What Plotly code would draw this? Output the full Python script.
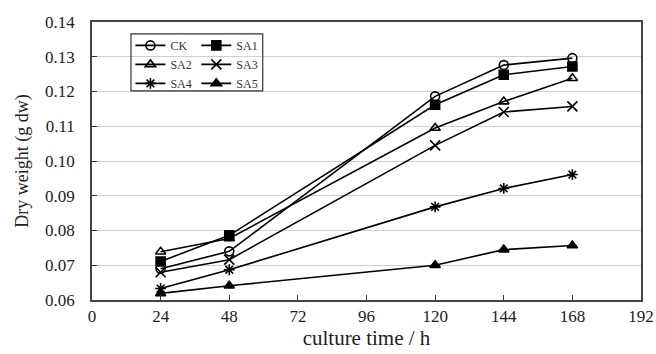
import plotly.graph_objects as go

hours = [24, 48, 120, 144, 168]
ck  = [0.0690, 0.0740, 0.1186, 0.1276, 0.1296]
sa1 = [0.0711, 0.0786, 0.1162, 0.1248, 0.1272]
sa2 = [0.0739, 0.0777, 0.1095, 0.1171, 0.1238]
sa3 = [0.0680, 0.0716, 0.1045, 0.1141, 0.1157]
sa4 = [0.0633, 0.0687, 0.0868, 0.0921, 0.0961]
sa5 = [0.0619, 0.0641, 0.0700, 0.0745, 0.0757]

x_ticks = [0, 24, 48, 72, 96, 120, 144, 168, 192]
y_ticks = [0.06, 0.07, 0.08, 0.09, 0.10, 0.11, 0.12, 0.13, 0.14]

series = [
    ("CK", ck, "circle-open", "legend"),
    ("SA2", sa2, "triangle-up-open", "legend"),
    ("SA4", sa4, "asterisk-open", "legend"),
    ("SA1", sa1, "square", "legend2"),
    ("SA3", sa3, "x-thin-open", "legend2"),
    ("SA5", sa5, "triangle-up", "legend2"),
]

FONT = "Liberation Serif"
fig = go.Figure()
for name, vals, sym, leg in series:
    fig.add_trace(go.Scatter(
        x=hours, y=vals, name=name, mode="lines+markers",
        line=dict(color="black", width=1.6),
        marker=dict(symbol=sym, size=9 if "x" not in sym else 10, color="black",
                    line=dict(color="black", width=1.6)),
        legend=leg,
    ))

fig.update_layout(
    width=656, height=354,
    margin=dict(l=92, r=15, t=22, b=54, autoexpand=False),
    paper_bgcolor="white", plot_bgcolor="white",
    font=dict(family=FONT, size=17, color="#222"),
    showlegend=True,
    legend=dict(x=0.07, y=0.968, xanchor="left", yanchor="top",
                font=dict(family=FONT, size=12, color="#333"),
                bgcolor="rgba(0,0,0,0)", tracegroupgap=0, itemwidth=30),
    legend2=dict(x=0.19, y=0.968, xanchor="left", yanchor="top",
                 font=dict(family=FONT, size=12, color="#333"),
                 bgcolor="rgba(0,0,0,0)", tracegroupgap=0, itemwidth=30),
    xaxis=dict(range=[0, 192], tickvals=x_ticks, ticktext=[str(v) for v in x_ticks],
               ticks="inside", ticklen=5, tickcolor="#333", automargin=False,
               showline=True, linecolor="#444", linewidth=1.5, mirror=True,
               showgrid=False, zeroline=False,
               title=dict(text="culture time / h", font=dict(family=FONT, size=21), standoff=2),
               tickfont=dict(family=FONT, size=17, color="#222")),
    yaxis=dict(range=[0.06, 0.14], tickvals=y_ticks,
               ticktext=[f"{v:.2f}" for v in y_ticks],
               ticks="inside", ticklen=5, tickcolor="#333", automargin=False,
               showline=True, linecolor="#444", linewidth=1.5, mirror=True,
               showgrid=True, gridcolor="#d0d0d0", gridwidth=1, zeroline=False,
               ticklabelstandoff=12,
               title=dict(text="Dry weight (g dw)", font=dict(family=FONT, size=18), standoff=12),
               tickfont=dict(family=FONT, size=17, color="#222")),
    shapes=[dict(type="rect", xref="paper", yref="paper",
                 x0=0.071, x1=0.311, y0=0.752, y1=0.957,
                 line=dict(color="#333", width=1.2), fillcolor="rgba(0,0,0,0)")],
)

fig.write_html("out.html", config={"displayModeBar": False},
               post_script="document.body.style.margin='0';document.body.style.padding='0';")
